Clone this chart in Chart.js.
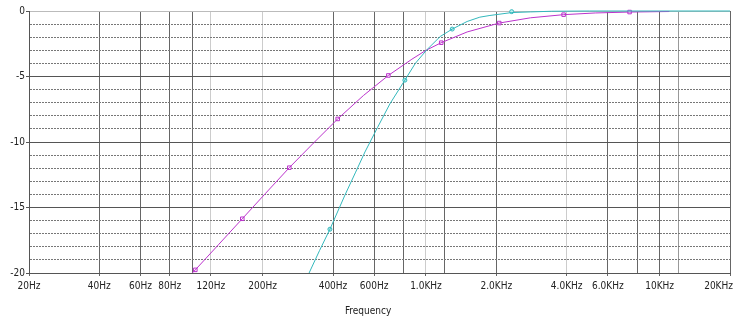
<!DOCTYPE html>
<html>
<head>
<meta charset="utf-8">
<script src="https://cdn.jsdelivr.net/npm/chart.js@4.4.0/dist/chart.umd.min.js"></script>
<style>
  html, body { margin: 0; padding: 0; background: #fff; }
  canvas { display: block; }
</style>
</head>
<body>
<canvas id="grafico" width="736" height="320"></canvas>
<script>
// curva magenta (Hz, dB)
const magentaFreq = [100, 103, 130, 163.6, 205, 260, 330, 419, 540, 690, 870, 1000, 1162, 1500, 2058, 2800, 3882, 5300, 7435, 11000];
const magentaDb = [-20, -19.76, -17.8, -15.86, -13.95, -11.96, -10.08, -8.24, -6.45, -4.92, -3.68, -3.0, -2.42, -1.6, -0.92, -0.52, -0.28, -0.15, -0.08, -0.04];
const magentaMarkFreq = [103, 163.6, 260, 419, 690, 1162, 2058, 3882, 7435];
const magentaMarkDb = [-19.76, -15.86, -11.96, -8.24, -4.92, -2.42, -0.92, -0.28, -0.08];

// curva cyan (Hz, dB)
const cyanFreq = [316, 350, 388, 450, 500, 548, 620, 700, 812, 900, 1006, 1150, 1295, 1500, 1700, 1878, 2326, 2800, 3450, 5000, 20000];
const cyanDb = [-20, -18.3, -16.66, -14.05, -12.3, -10.76, -8.9, -7.1, -5.28, -4.0, -2.98, -1.95, -1.38, -0.8, -0.47, -0.34, -0.12, -0.07, -0.02, 0, 0];
const cyanMarkFreq = [388, 812, 1295, 2326];
const cyanMarkDb = [-16.66, -5.28, -1.38, -0.05];

// eje x
const gridFreqs = [20, 40, 60, 80, 100, 120, 200, 400, 600, 800, 1000, 1200, 2000, 4000, 6000, 8000, 10000, 12000, 20000];
const labelFreqs = [20, 40, 60, 80, 120, 200, 400, 600, 1000, 2000, 4000, 6000, 10000, 20000];
const labelText = ['20Hz', '40Hz', '60Hz', '80Hz', '120Hz', '200Hz', '400Hz', '600Hz', '1.0KHz', '2.0KHz', '4.0KHz', '6.0KHz', '10KHz', '20KHz'];

const magenta = '#bb33cc';
const cyan = '#33b8bc';
const fuente = { family: '"DejaVu Sans Condensed", "DejaVu Sans", sans-serif', size: 10 };

function puntos(xs, ys) {
    return xs.map((x, i) => ({ x: x, y: ys[i] }));
}

function colorVertical(v) {
    if (v == 120 || v == 200 || v == 1000 || v == 4000) return '#cccccc';
    if (v == 12000) return '#999999';
    return '#666666';
}

let ctx = document.getElementById('grafico');

new Chart(ctx, {
    type: 'scatter',
    data: {
        datasets: [
            {
                data: puntos(cyanFreq, cyanDb),
                showLine: true,
                borderColor: cyan,
                borderWidth: 1,
                pointRadius: 0,
                clip: false,
            },
            {
                data: puntos(magentaFreq, magentaDb),
                showLine: true,
                borderColor: magenta,
                borderWidth: 1,
                pointRadius: 0,
                clip: false,
            },
            {
                data: puntos(cyanMarkFreq, cyanMarkDb),
                showLine: false,
                pointStyle: 'circle',
                pointRadius: 2,
                borderColor: cyan,
                backgroundColor: '#bdeeee',
                borderWidth: 1,
                clip: false,
            },
            {
                data: puntos(magentaMarkFreq, magentaMarkDb),
                showLine: false,
                pointStyle: 'rect',
                pointRadius: 2.5,
                borderColor: magenta,
                backgroundColor: '#ffffff',
                borderWidth: 1,
                clip: false,
            },
        ],
    },
    options: {
        responsive: false,
        animation: false,
        devicePixelRatio: 1,
        layout: { padding: { top: 11, right: 6, left: 0, bottom: 0 } },
        plugins: {
            legend: { display: false },
            tooltip: { enabled: false },
        },
        scales: {
            x: {
                type: 'logarithmic',
                min: 20,
                max: 20000,
                afterBuildTicks: (axis) => {
                    axis.ticks = gridFreqs.map(v => ({ value: v }));
                },
                afterFit: (axis) => {
                    axis.height = 47;
                    axis.paddingLeft = 0;
                    axis.paddingRight = 0;
                },
                ticks: {
                    autoSkip: false,
                    maxRotation: 0,
                    minRotation: 0,
                    padding: 4,
                    color: '#222',
                    font: fuente,
                    callback: (value) => {
                        let i = labelFreqs.indexOf(value);
                        if (i < 0) return '';
                        // la ultima etiqueta queda pegada al borde derecho
                        if (value == 20000) return labelText[i] + '        ';
                        return labelText[i];
                    },
                },
                grid: {
                    color: (c) => c.tick ? colorVertical(c.tick.value) : '#666666',
                    tickColor: (c) => c.tick && labelFreqs.indexOf(c.tick.value) >= 0 ? '#666666' : 'rgba(0,0,0,0)',
                    tickLength: 3,
                    lineWidth: 1,
                },
                border: { color: '#555555' },
                title: {
                    display: true,
                    text: 'Frequency        ',
                    color: '#222',
                    font: fuente,
                    padding: { top: 0, bottom: 3 },
                },
            },
            y: {
                min: -20,
                max: 0,
                afterFit: (axis) => {
                    axis.width = 29;
                    axis.paddingTop = 0;
                    axis.paddingBottom = 0;
                },
                ticks: {
                    stepSize: 1,
                    autoSkip: false,
                    padding: 1,
                    color: '#222',
                    font: fuente,
                    callback: (v) => v % 5 === 0 ? String(v) : '',
                },
                grid: {
                    color: (c) => {
                        if (!c.tick) return '#555555';
                        let v = c.tick.value;
                        if (v === 0) return '#bbbbbb';
                        if (v % 5 === 0) return '#555555';
                        return '#777777';
                    },
                    tickColor: (c) => c.tick && c.tick.value % 5 === 0 ? '#555555' : 'rgba(0,0,0,0)',
                    tickLength: 3,
                    lineWidth: 1,
                },
                border: {
                    color: '#555555',
                    dash: (c) => c.tick && c.tick.value % 5 !== 0 ? [2, 1] : [],
                },
            },
        },
    },
});
</script>
</body>
</html>
